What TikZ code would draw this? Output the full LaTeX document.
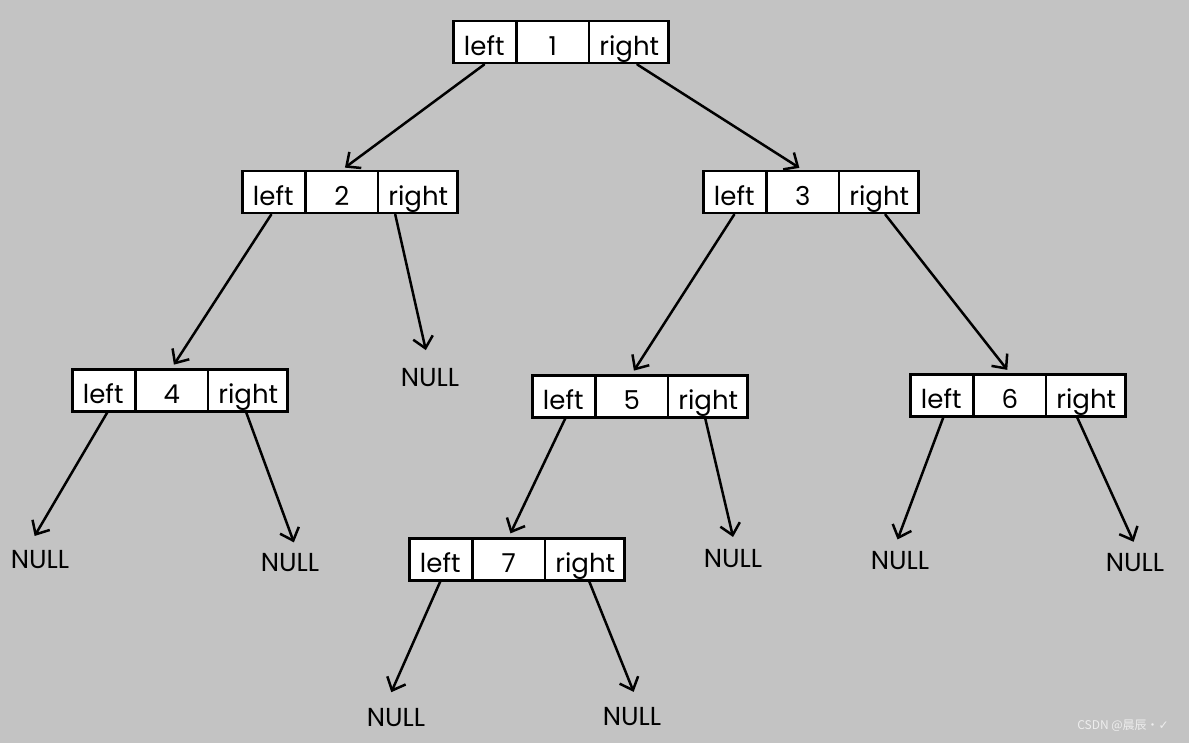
\documentclass[tikz,border=0pt]{standalone}
\usepackage{fontspec}
\setmainfont{Poppins}
\newfontfamily\cjkfont{Noto Sans CJK SC}
\newfontfamily\symfont{DejaVu Sans}
\usepackage{tikz}
\usepackage{xcolor}
\usetikzlibrary{shapes.multipart}
\usetikzlibrary{arrows.meta}
\definecolor{bggray}{RGB}{195,195,195}
\definecolor{markgray}{RGB}{238,238,238}
\newcommand{\cellstrut}{\rule[-8pt]{0pt}{42pt}}
\newcommand{\lrcell}[1]{\makebox[62pt]{\cellstrut left}\nodepart{two}\makebox[70pt]{\cellstrut #1}\nodepart{three}\makebox[78pt]{\cellstrut right}}
\tikzset{
cellbox/.style={rectangle split,rectangle split horizontal,rectangle split parts=3,draw,fill=white,line width=2.5pt,inner sep=0pt,anchor=north west,font=\fontsize{26}{28}\selectfont},
nulltext/.style={inner sep=0pt,font=\fontsize{26}{28}\selectfont},
link/.style={-{Straight Barb[length=11pt,width=20pt]},line width=2.5pt,line cap=round}
}
\begin{document}
\begin{tikzpicture}[x=1pt,y=-1pt]
\fill[bggray](0,0)rectangle(1189,743);
\node[cellbox](n1)at(452,20){\lrcell{1}};
\node[cellbox](n2)at(241,170){\lrcell{2}};
\node[cellbox](n3)at(702,170){\lrcell{3}};
\node[cellbox](n4)at(71,368){\lrcell{4}};
\node[cellbox](n5)at(531,374){\lrcell{5}};
\node[cellbox](n6)at(909,373){\lrcell{6}};
\node[cellbox](n7)at(408,537){\lrcell{7}};
\node[nulltext](null2r)at(430,378){NULL};
\node[nulltext](null4l)at(40,560){NULL};
\node[nulltext](null4r)at(290,563){NULL};
\node[nulltext](null5r)at(733,559){NULL};
\node[nulltext](null6l)at(900,561){NULL};
\node[nulltext](null6r)at(1135,563){NULL};
\node[nulltext](null7l)at(396,718){NULL};
\node[nulltext](null7r)at(632,717){NULL};
\draw[link,shorten >=4pt](n1.one south)--(n2.two north);
\draw[link,shorten >=4pt]([xshift=8pt]n1.three south)--(n3.two north);
\draw[link,shorten >=4pt]([xshift=-2pt]n2.one south)--(n4.two north);
\draw[link,shorten >=19pt]([xshift=-23pt]n2.three south)--(null2r.north);
\draw[link,shorten >=4pt](n3.one south)--(n5.two north);
\draw[link,shorten >=4pt]([xshift=6pt]n3.three south)--(n6.two north);
\draw[link,shorten >=17pt]([xshift=4pt]n4.one south)--([xshift=-14pt]null4l.north);
\draw[link,shorten >=12pt]([xshift=-2pt]n4.three south)--([xshift=8pt]null4r.north);
\draw[link,shorten >=4pt]([xshift=2pt]n5.one south)--(n7.two north);
\draw[link,shorten >=13pt]([xshift=-3pt]n5.three south)--([xshift=3pt]null5r.north);
\draw[link,shorten >=13pt]([xshift=2pt]n6.one south)--([xshift=-7pt]null6l.north);
\draw[link,shorten >=13pt]([xshift=-9pt]n6.three south)--([xshift=4pt]null6r.north);
\draw[link,shorten >=18pt](n7.one south)--([xshift=-12pt]null7l.north);
\draw[link,shorten >=17pt]([xshift=4pt]n7.three south)--([xshift=8pt]null7r.north);
\node[font=\cjkfont\fontsize{12}{13}\selectfont,text=markgray](mark)at(1123,726){CSDN @晨辰·{\symfont ✓}};
\end{tikzpicture}
\end{document}
